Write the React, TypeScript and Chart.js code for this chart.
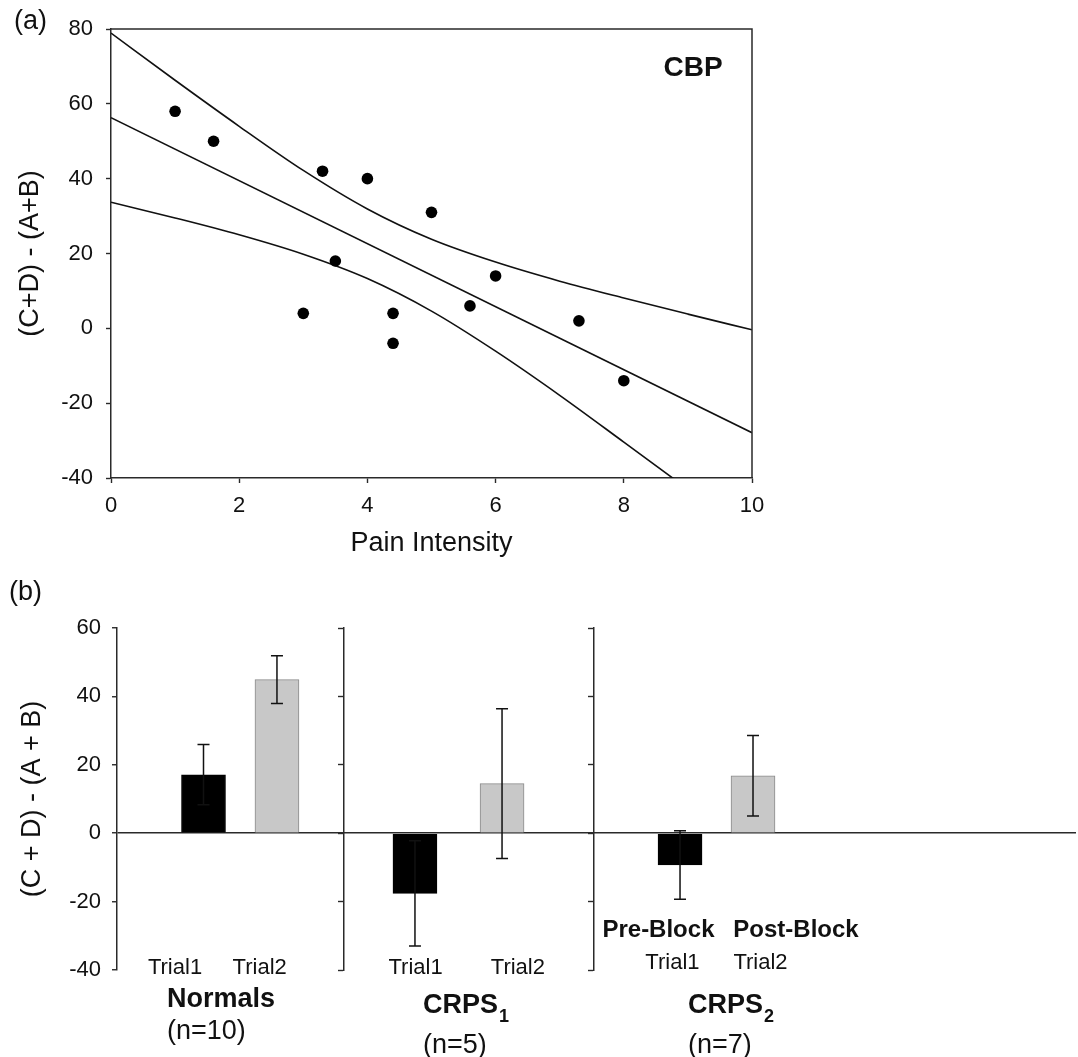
import React, { useEffect, useRef } from 'react';
import { Chart, registerables } from 'chart.js';

Chart.register(...registerables);

const FONT = '"Liberation Sans", Arial, Helvetica, sans-serif';
Chart.defaults.font.family = FONT;

// ---------- Panel (a): CBP scatter ----------
const painIntensity = [1, 1.6, 3.3, 4, 5, 3.5, 3, 4.4, 4.4, 5.6, 6, 7.3, 8];
const ratingDiff = [58, 50, 42, 40, 31, 18, 4, 4, -4, 6, 14, 2, -14];
const fitX = [0, 10];
const fitY = [56.3, -27.9];
const bandX = [0, 1, 2, 3, 4, 5, 6, 7, 8, 9, 10];
const upperBand = [78.9, 66.3, 54.0, 42.2, 31.9, 23.8, 17.7, 12.6, 8.1, 3.8, -0.4];
const lowerBand = [33.7, 29.5, 25.0, 19.8, 13.3, 4.6, -6.1, -17.9, -30.4, -43.0, -55.8];
const panelATitle = 'CBP';

// ---------- Panel (b): bars ----------
const trialLabels = ['Trial1', 'Trial2', 'Trial1', 'Trial2', 'Trial1', 'Trial2'];
const barSlots = [0.902, 1.668, 3.107, 4.015, 5.871, 6.632];
const barMeans = [17.1, 44.9, -17.6, 14.5, -9.3, 16.8];
const barErrors = [8.8, 7.0, 15.4, 21.9, 10.0, 11.8];
const barIsTrial2 = [false, true, false, true, false, true];
const dividerSlots = [2.36, 4.967];
const trialLabelSlots = [0.605, 1.488, 3.113, 4.18, 5.792, 6.71];
const groupNames = ['Normals', 'CRPS', 'CRPS'];
const groupSubs = ['', '1', '2'];
const groupSizes = ['(n=10)', '(n=5)', '(n=7)'];
const groupLabelSlots = [0.521, 3.191, 5.954];
const blockLabels = ['Pre-Block', 'Post-Block'];
const blockLabelSlots = [5.646, 7.08];

const AXIS = '#2a2a2a';
const TEXT = '#111';

const frameAPlugin = {
  id: 'frameA',
  afterDraw(chart: any) {
    const { ctx, chartArea, scales } = chart;
    ctx.save();
    ctx.strokeStyle = AXIS;
    ctx.lineWidth = 1.5;
    ctx.beginPath();
    ctx.moveTo(chartArea.left, chartArea.top);
    ctx.lineTo(chartArea.right, chartArea.top);
    ctx.lineTo(chartArea.right, chartArea.bottom);
    ctx.stroke();
    ctx.fillStyle = TEXT;
    ctx.textBaseline = 'middle';
    ctx.textAlign = 'left';
    ctx.font = `27px ${FONT}`;
    ctx.fillText('(a)', 14, 22);
    ctx.textAlign = 'center';
    ctx.font = `bold 28px ${FONT}`;
    ctx.fillText(panelATitle, scales.x.getPixelForValue(9.08), scales.y.getPixelForValue(69.6));
    ctx.restore();
  },
};

const errorBarPlugin = {
  id: 'errorBars',
  afterDatasetsDraw(chart: any) {
    const { ctx, scales } = chart;
    ctx.save();
    ctx.strokeStyle = TEXT;
    ctx.lineWidth = 1.5;
    barMeans.forEach((m, i) => {
      const x = scales.x.getPixelForValue(barSlots[i]);
      const yTop = scales.y.getPixelForValue(m + barErrors[i]);
      const yBot = scales.y.getPixelForValue(m - barErrors[i]);
      ctx.beginPath();
      ctx.moveTo(x, yTop);
      ctx.lineTo(x, yBot);
      ctx.moveTo(x - 6, yTop);
      ctx.lineTo(x + 6, yTop);
      ctx.moveTo(x - 6, yBot);
      ctx.lineTo(x + 6, yBot);
      ctx.stroke();
    });
    ctx.restore();
  },
};

const panelBTextPlugin = {
  id: 'panelBText',
  afterDraw(chart: any) {
    const { ctx, chartArea, scales } = chart;
    const bottom = chartArea.bottom;
    const px = (v: number) => scales.x.getPixelForValue(v);
    ctx.save();
    ctx.fillStyle = TEXT;
    ctx.textBaseline = 'middle';
    ctx.textAlign = 'left';
    ctx.font = `27px ${FONT}`;
    ctx.fillText('(b)', 9, 33);

    ctx.textAlign = 'center';
    ctx.font = `22px ${FONT}`;
    trialLabels.forEach((t, i) => {
      const dy = i >= 4 ? -7.5 : -2.5;
      ctx.fillText(t, px(trialLabelSlots[i]), bottom + dy);
    });
    ctx.font = `bold 24px ${FONT}`;
    blockLabels.forEach((t, i) => {
      ctx.fillText(t, px(blockLabelSlots[i]), bottom - 39.5);
    });

    ctx.textAlign = 'left';
    groupNames.forEach((g, i) => {
      const x0 = px(groupLabelSlots[i]);
      ctx.textBaseline = 'alphabetic';
      ctx.font = `bold 27px ${FONT}`;
      const base = groupSubs[i] ? bottom + 43 : bottom + 37;
      ctx.fillText(g, x0, base);
      if (groupSubs[i]) {
        const w = ctx.measureText(g).width;
        ctx.font = `bold 18px ${FONT}`;
        ctx.fillText(groupSubs[i], x0 + w + 1, base + 9);
      }
      ctx.textBaseline = 'middle';
      ctx.font = `27px ${FONT}`;
      ctx.fillText(groupSizes[i], x0, groupSubs[i] ? bottom + 75.5 : bottom + 61.5);
    });
    ctx.restore();
  },
};

export default function App() {
  const refA = useRef<HTMLCanvasElement>(null);
  const refB = useRef<HTMLCanvasElement>(null);

  useEffect(() => {
    const tickFontA = { size: 22, family: FONT };
    const chartA = new Chart(refA.current as HTMLCanvasElement, {
      type: 'scatter',
      data: {
        datasets: [
          {
            type: 'scatter',
            data: painIntensity.map((x, i) => ({ x, y: ratingDiff[i] })),
            pointRadius: 5.8,
            pointHoverRadius: 5.8,
            backgroundColor: '#000',
            borderWidth: 0,
          },
          {
            type: 'line',
            data: fitX.map((x, i) => ({ x, y: fitY[i] })),
            borderColor: TEXT,
            borderWidth: 1.6,
            pointRadius: 0,
            fill: false,
          },
          {
            type: 'line',
            data: bandX.map((x, i) => ({ x, y: upperBand[i] })),
            borderColor: TEXT,
            borderWidth: 1.6,
            pointRadius: 0,
            fill: false,
            cubicInterpolationMode: 'monotone',
          },
          {
            type: 'line',
            data: bandX.map((x, i) => ({ x, y: lowerBand[i] })),
            borderColor: TEXT,
            borderWidth: 1.6,
            pointRadius: 0,
            fill: false,
            cubicInterpolationMode: 'monotone',
          },
        ] as any,
      },
      options: {
        responsive: false,
        animation: false,
        events: [],
        layout: { padding: { left: 0, top: 29, right: 326, bottom: 0 } },
        plugins: { legend: { display: false }, tooltip: { enabled: false } },
        scales: {
          x: {
            type: 'linear',
            min: 0,
            max: 10,
            ticks: { stepSize: 2, font: tickFontA, color: TEXT, padding: 10 },
            grid: { drawOnChartArea: false, tickLength: 5, tickColor: AXIS, tickWidth: 1.4 },
            border: { color: AXIS, width: 1.5 },
            title: { display: true, text: 'Pain Intensity', font: { size: 27, family: FONT }, color: TEXT, padding: { top: 0, bottom: 0 } },
            afterFit: (s: any) => { s.height = 82; },
          },
          y: {
            type: 'linear',
            min: -40,
            max: 80,
            ticks: { stepSize: 20, font: tickFontA, color: TEXT, padding: 13 },
            grid: { drawOnChartArea: false, tickLength: 5, tickColor: AXIS, tickWidth: 1.4 },
            border: { color: AXIS, width: 1.5 },
            title: { display: true, text: '(C+D) - (A+B)', font: { size: 27, family: FONT }, color: TEXT, padding: { top: 14, bottom: 0 } },
            afterFit: (s: any) => { s.width = 111; },
          },
        },
      } as any,
      plugins: [frameAPlugin],
    });

    const divider = (slot: number) => ({
      type: 'linear',
      position: { x: slot },
      min: -40,
      max: 60,
      ticks: { stepSize: 20, display: false },
      grid: { drawOnChartArea: false, tickLength: 5, tickColor: AXIS, tickWidth: 1.4 },
      border: { color: AXIS, width: 1.5 },
    });

    const chartB = new Chart(refB.current as HTMLCanvasElement, {
      type: 'bar',
      data: {
        datasets: [
          {
            data: barSlots.map((x, i) => ({ x, y: barMeans[i] })),
            backgroundColor: barIsTrial2.map((t) => (t ? '#c8c8c8' : '#000')),
            borderColor: barIsTrial2.map((t) => (t ? '#8a8a8a' : '#000')),
            borderWidth: 1,
            barThickness: 44,
          },
        ] as any,
      },
      options: {
        responsive: false,
        animation: false,
        events: [],
        layout: { padding: { left: 0, top: 68, right: 2, bottom: 87 } },
        plugins: { legend: { display: false }, tooltip: { enabled: false } },
        scales: {
          x: {
            type: 'linear',
            min: 0,
            max: 10,
            offset: false,
            display: false,
          },
          y: {
            type: 'linear',
            min: -40,
            max: 60,
            ticks: { stepSize: 20, font: { size: 22, family: FONT }, color: TEXT, padding: 11 },
            grid: {
              drawOnChartArea: true,
              color: (c: any) => (c.tick && c.tick.value === 0 ? AXIS : 'rgba(0,0,0,0)'),
              lineWidth: 1.5,
              tickLength: 5,
              tickColor: AXIS,
              tickWidth: 1.4,
            },
            border: { color: AXIS, width: 1.5 },
            title: { display: true, text: '(C + D) - (A + B)', font: { size: 27, family: FONT }, color: TEXT, padding: { top: 16, bottom: 0 } },
            afterFit: (s: any) => { s.width = 117; },
          },
          y2: divider(dividerSlots[0]),
          y3: divider(dividerSlots[1]),
        },
      } as any,
      plugins: [errorBarPlugin, panelBTextPlugin],
    });

    return () => {
      chartA.destroy();
      chartB.destroy();
    };
  }, []);

  return (
    <div style={{ position: 'absolute', left: 0, top: 0, width: 1078, height: 1057, background: '#fff', overflow: 'hidden' }}>
      <canvas ref={refA} width={1078} height={560} style={{ position: 'absolute', left: 0, top: 0, width: 1078, height: 560 }} />
      <canvas ref={refB} width={1078} height={497} style={{ position: 'absolute', left: 0, top: 560, width: 1078, height: 497 }} />
    </div>
  );
}
